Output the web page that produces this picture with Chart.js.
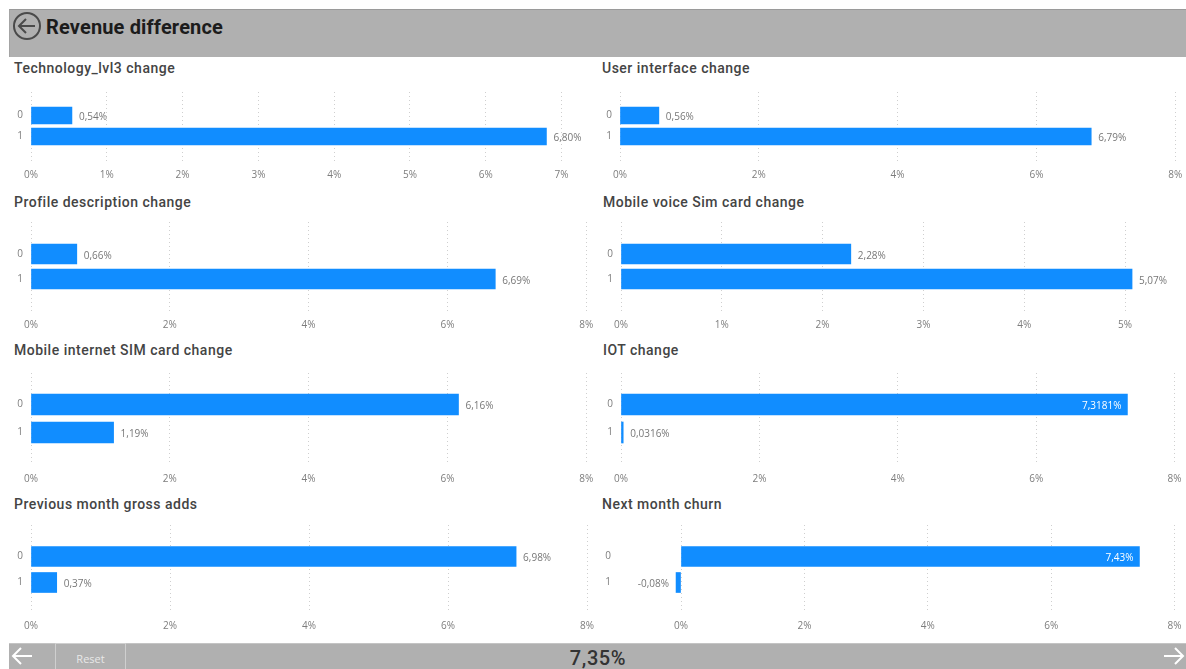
<!DOCTYPE html>
<html><head><meta charset="utf-8">
<script src="https://cdn.jsdelivr.net/npm/chart.js@4"></script>
<style>
html,body{margin:0;padding:0;background:#fff;width:1186px;height:669px;overflow:hidden;position:relative;font-family:Roboto,sans-serif}
.bar{position:absolute;left:9px;width:1177px;background:#b0b0b0}
#head{top:9px;height:48px;border-top:1px solid #9a9a9a;border-left:1px solid #a4a4a4;box-sizing:border-box}
#foot{top:643px;height:26px;border-top:1px solid #c4c4c4;box-sizing:border-box}
#title{position:absolute;left:46px;top:14px;font:700 20px/26px Roboto,sans-serif;color:#1c1c1c;letter-spacing:.15px}
.pt{position:absolute;font:500 14px/18px Roboto,sans-serif;color:#444;letter-spacing:.5px;white-space:nowrap}
canvas{position:absolute}
#reset{position:absolute;left:55px;top:643px;width:71px;height:26px;box-sizing:border-box;border:1px solid #cfcfcf;border-bottom:0;color:#e8e8e8;font:11px/29px "Open Sans",sans-serif;text-align:center}
#total{position:absolute;left:498px;width:200px;top:645px;text-align:center;font:500 20px/26px Roboto,sans-serif;color:#333;letter-spacing:.6px}
svg{position:absolute}
</style></head><body>
<div class="bar" id="head"></div>
<svg style="left:12px;top:11px" width="30" height="30" viewBox="0 0 30 30" fill="none" stroke="#4a4a4a" stroke-width="2"><circle cx="15" cy="15" r="13"/><path d="M23 15H7M14 8l-7 7 7 7"/></svg>
<div id="title">Revenue difference</div>
<div class="bar" id="foot"></div>
<svg style="left:10px;top:646px" width="24" height="20" viewBox="0 0 24 20" fill="none" stroke="#fff" stroke-width="2"><path d="M22 10H3M11 2l-8 8 8 8"/></svg>
<svg style="left:1162px;top:646px" width="24" height="20" viewBox="0 0 24 20" fill="none" stroke="#fff" stroke-width="2"><path d="M2 10H21M13 2l8 8-8 8"/></svg>
<div id="reset">Reset</div>
<div id="total">7,35%</div>
<script>
const categories = ['0','1'];
const panelTitles = ['Technology_lvl3 change','User interface change','Profile description change','Mobile voice Sim card change','Mobile internet SIM card change','IOT change','Previous month gross adds','Next month churn'];
const technologyValues = [0.54, 6.80];
const userInterfaceValues = [0.56, 6.79];
const profileValues = [0.66, 6.69];
const mobileVoiceValues = [2.28, 5.07];
const mobileInternetValues = [6.16, 1.19];
const iotValues = [7.3181, 0.0316];
const grossAddsValues = [6.98, 0.37];
const churnValues = [7.43, -0.08];
const decimals = [2,2,2,2,2,4,2,2];
const series = [technologyValues,userInterfaceValues,profileValues,mobileVoiceValues,mobileInternetValues,iotValues,grossAddsValues,churnValues];
const tickSteps = [1,2,2,1,2,2,2,2];

// layout: title pos, axis left/right px, per-% px, zero px, grid top/bottom, bar centres, thickness, tick padding
const L=[
 {tx:14,ty:59, x0:31, left:31, right:584, pp:75.8, top:92,bottom:162,c0:115.5,c1:136.5,th:17,tp:7},
 {tx:602,ty:59,x0:620,left:620,right:1182,pp:69.4, top:92,bottom:162,c0:115.5,c1:136.5,th:17,tp:7},
 {tx:14,ty:193,x0:31, left:31, right:593, pp:69.4, top:222,bottom:312,c0:254,c1:279,th:20,tp:7},
 {tx:603,ty:193,x0:621,left:621,right:1176,pp:100.8,top:222,bottom:312,c0:254,c1:279,th:20,tp:7},
 {tx:14,ty:341,x0:31, left:31, right:593, pp:69.4, top:373,bottom:465,c0:404.5,c1:432.5,th:21,tp:8},
 {tx:603,ty:341,x0:621,left:621,right:1182,pp:69.2, top:373,bottom:465,c0:404.5,c1:432.5,th:21,tp:8},
 {tx:14,ty:495,x0:31, left:31, right:594, pp:69.5, top:525,bottom:613,c0:556.5,c1:582.5,th:20,tp:7},
 {tx:602,ty:495,x0:681,left:621,right:1182,pp:61.7, top:525,bottom:613,c0:556.5,c1:582.5,th:20,tp:7}
];

const valueLabels={id:'valueLabels',afterDatasetsDraw(chart,a,o){
  const ctx=chart.ctx, meta=chart.getDatasetMeta(0), vals=chart.data.datasets[0].data;
  ctx.save();ctx.font='10px "Open Sans",sans-serif';ctx.textBaseline='middle';
  meta.data.forEach((b,i)=>{
    const v=vals[i].x, s=v.toFixed(o.dec).replace('.',',')+'%';
    if(v<0){ctx.fillStyle='#777';ctx.textAlign='right';ctx.fillText(s,b.x-7,b.y+2);}
    else if(v>7.3){ctx.fillStyle='#fff';ctx.textAlign='right';ctx.fillText(s,b.x-6,b.y+2);}
    else{ctx.fillStyle='#777';ctx.textAlign='left';ctx.fillText(s,b.x+7,b.y+2);}
  });
  ctx.restore();
}};

series.forEach((vals,i)=>{
  const g=L[i];
  const col=i%2;
  const cLeft=col?598:10;
  const t=document.createElement('div');t.className='pt';t.textContent=panelTitles[i];
  t.style.left=g.tx+'px';t.style.top=g.ty+'px';document.body.appendChild(t);
  const c=document.createElement('canvas');
  const W=g.right-cLeft,H=g.bottom-g.top+24;
  c.width=W;c.height=H;c.style.cssText=`left:${cLeft}px;top:${g.top}px;width:${W}px;height:${H}px`;
  document.body.appendChild(c);
  const step=g.c1-g.c0;
  new Chart(c,{type:'bar',
    data:{datasets:[{data:vals.map((v,k)=>({x:v,y:k})),backgroundColor:'#118dff',borderWidth:0,barThickness:g.th}]},
    plugins:[valueLabels],
    options:{indexAxis:'y',responsive:false,animation:false,
      layout:{padding:0},
      plugins:{legend:{display:false},tooltip:{enabled:false},valueLabels:{dec:decimals[i]}},
      scales:{
        x:{type:'linear',position:'bottom',min:(g.left-g.x0)/g.pp,max:(g.right-g.x0)/g.pp,
           border:{display:false,dash:[1,3]},
           grid:{color:'#cfcfcf',drawTicks:false,lineWidth:1},
           afterBuildTicks(s){s.ticks=s.ticks.filter(k=>k.value>=0);},
           afterFit(s){s.height=24;s.paddingLeft=0;s.paddingRight=0;},
           ticks:{stepSize:tickSteps[i],includeBounds:false,autoSkip:false,maxRotation:0,padding:g.tp,color:'#7d7d7d',
             font:{family:'"Open Sans",sans-serif',size:10},callback:v=>v+'%'}},
        y:{type:'linear',offset:false,reverse:true,min:(g.top-g.c0)/step,max:(g.bottom-g.c0)/step,
           border:{display:false},grid:{display:false,drawTicks:false,offset:false},
           afterBuildTicks(s){s.ticks=[{value:0},{value:1}];},
           afterFit(s){s.width=g.left-cLeft;s.paddingTop=0;s.paddingBottom=0;},
           ticks:{stepSize:1,includeBounds:false,autoSkip:false,padding:i===7?10:8,color:'#7d7d7d',
             font:{family:'"Open Sans",sans-serif',size:10},callback:v=>categories[v]}}
      }}});
});
</script>
</body></html>
